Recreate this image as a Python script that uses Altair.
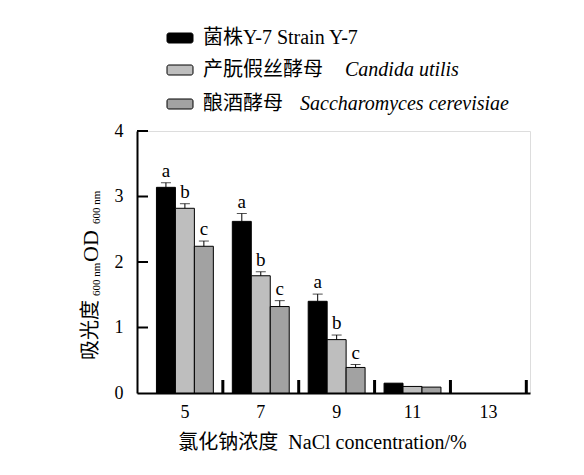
import altair as alt
import pandas as pd

# NaCl concentration (%) categories
conc = ["5", "7", "9", "11", "13"]
strains = ["Y-7", "C. utilis", "S. cerevisiae"]
colors = ["#000000", "#bebebe", "#a2a2a2"]

# OD600 values
od_y7 = [3.14, 2.62, 1.40, 0.15, 0.0]
od_cu = [2.82, 1.79, 0.815, 0.10, 0.0]
od_sc = [2.24, 1.32, 0.39, 0.09, 0.0]

# standard errors
err_y7 = [0.07, 0.12, 0.11, 0.0, 0.0]
err_cu = [0.07, 0.06, 0.07, 0.0, 0.0]
err_sc = [0.08, 0.09, 0.045, 0.0, 0.0]

# significance letters
sig_y7 = ["a", "a", "a", "", ""]
sig_cu = ["b", "b", "b", "", ""]
sig_sc = ["c", "c", "c", "", ""]

y_ticks = [0, 1, 2, 3, 4]

SERIF = "Liberation Serif, Noto Sans CJK SC"
LATIN = "Liberation Serif"

rows = []
for s, od, err, sig in [
    (strains[0], od_y7, err_y7, sig_y7),
    (strains[1], od_cu, err_cu, sig_cu),
    (strains[2], od_sc, err_sc, sig_sc),
]:
    for c, v, e, g in zip(conc, od, err, sig):
        rows.append({"conc": c, "strain": s, "od": v, "err": e, "top": v + e, "sig": g})
df = pd.DataFrame(rows)

x_enc = alt.X(
    "conc:O",
    sort=conc,
    scale=alt.Scale(domain=conc, paddingInner=0, paddingOuter=0.09, align=0.73),
    axis=alt.Axis(
        title="氯化钠浓度\u2002NaCl concentration/%",
        titleFont=SERIF,
        titleFontSize=20,
        titleFontWeight="normal",
        titleColor="#000",
        titleX=185,
        titleY=55,
        titleAlign="center",
        titleBaseline="alphabetic",
        labelAngle=0,
        labelFont=LATIN,
        labelFontSize=18,
        labelColor="#000",
        labelPadding=10,
        ticks=False,
        domainColor="#000",
        domainWidth=2,
    ),
)
xo_enc = alt.XOffset(
    "strain:N", sort=strains, scale=alt.Scale(domain=strains, paddingInner=0, paddingOuter=0.5)
)
y_scale = alt.Scale(domain=[0, 4], nice=False)

base = alt.Chart(df)

bars = base.transform_filter("datum.od > 0").mark_bar(stroke="#000", strokeWidth=1).encode(
    x=x_enc,
    xOffset=xo_enc,
    y=alt.Y(
        "od:Q",
        scale=y_scale,
        axis=alt.Axis(
            title=None,
            values=y_ticks,
            format="d",
            grid=False,
            ticks=False,
            labelFont=LATIN,
            labelFontSize=18,
            labelColor="#000",
            labelPadding=14,
            domainColor="#000",
            domainWidth=2,
        ),
    ),
    color=alt.Color("strain:N", scale=alt.Scale(domain=strains, range=colors), legend=None),
)

err_base = base.transform_filter("datum.err > 0")
err_line = err_base.mark_rule(color="#000", strokeWidth=1).encode(
    x=alt.X("conc:O", sort=conc), xOffset=xo_enc, y="od:Q", y2="top:Q"
)
err_cap = err_base.mark_tick(color="#000", thickness=1, size=10, orient="horizontal").encode(
    x=alt.X("conc:O", sort=conc), xOffset=xo_enc, y="top:Q"
)
letters = err_base.mark_text(
    font=LATIN, fontSize=19, baseline="bottom", dy=-2, color="#000"
).encode(x=alt.X("conc:O", sort=conc), xOffset=xo_enc, y="top:Q", text="sig:N")

# inward ticks on the y axis
tick_df = pd.DataFrame({"v": y_ticks[1:]})
y_tick_marks = alt.Chart(tick_df).mark_rule(color="#000", strokeWidth=2).encode(
    x=alt.value(0), x2=alt.value(11), y=alt.Y("v:Q", scale=y_scale)
)

# upward separator ticks at the band edges
sep_df = pd.DataFrame({"conc": conc})
x_tick_marks = alt.Chart(sep_df).mark_rule(color="#000", strokeWidth=3).encode(
    x=alt.X("conc:O", sort=conc, bandPosition=1), y=alt.value(262), y2=alt.value(249)
)

# y axis title built from pieces (subscripts)
ytitle_parts = [
    ("吸光度", 20, 229, -46, SERIF),
    ("600 nm", 11, 165, -40, LATIN),
    ("OD", 22, 131, -46, LATIN),
    ("600 nm", 11, 93, -40, LATIN),
]
one = pd.DataFrame({"t": ["x"]})
ytitle = [
    alt.Chart(one)
    .mark_text(font=fnt, fontSize=fs, angle=270, align="left", baseline="middle", color="#000")
    .encode(x=alt.value(px), y=alt.value(py), text=alt.value(t))
    for t, fs, py, px, fnt in ytitle_parts
]

# legend drawn by hand so the Latin names can be italic
legend_rows = [
    (colors[0], "菌株Y-7 Strain Y-7", "", 0, -93),
    (colors[1], "产朊假丝酵母", "Candida utilis", 208, -61),
    (colors[2], "酿酒酵母", "Saccharomyces cerevisiae", 163, -27),
]
legend = []
for col, zh, la, lx, ly in legend_rows:
    legend.append(
        alt.Chart(one)
        .mark_rect(fill=col, stroke="#000", strokeWidth=1, cornerRadius=2)
        .encode(x=alt.value(30), x2=alt.value(56), y=alt.value(ly - 5), y2=alt.value(ly + 5))
    )
    legend.append(
        alt.Chart(one)
        .mark_text(font=SERIF, fontSize=20, align="left", baseline="middle", color="#000")
        .encode(x=alt.value(66), y=alt.value(ly), text=alt.value(zh))
    )
    if la:
        legend.append(
            alt.Chart(one)
            .mark_text(
                font=LATIN, fontSize=20, fontStyle="italic", align="left", baseline="middle", color="#000"
            )
            .encode(x=alt.value(lx), y=alt.value(ly), text=alt.value(la))
        )

# faint shadow strip at the very top of the picture
shadow = alt.Chart(one).mark_rect(fill="#e6e6e6").encode(
    x=alt.value(81), x2=alt.value(430), y=alt.value(-131), y2=alt.value(-126)
)

chart = (
    alt.layer(
        shadow, bars, err_line, err_cap, letters, y_tick_marks, x_tick_marks, *ytitle, *legend
    )
    .properties(
        width=393,
        height=262,
        autosize=alt.AutoSizeParams(type="none"),
        padding={"left": 129, "top": 123, "right": 30, "bottom": 70},
    )
    .configure_view(stroke=None)
    .configure_axis(labelFont=LATIN, titleFont=SERIF)
    .configure(background="#ffffff")
)

chart.save("out.html", embed_options={"renderer": "svg", "actions": False})
